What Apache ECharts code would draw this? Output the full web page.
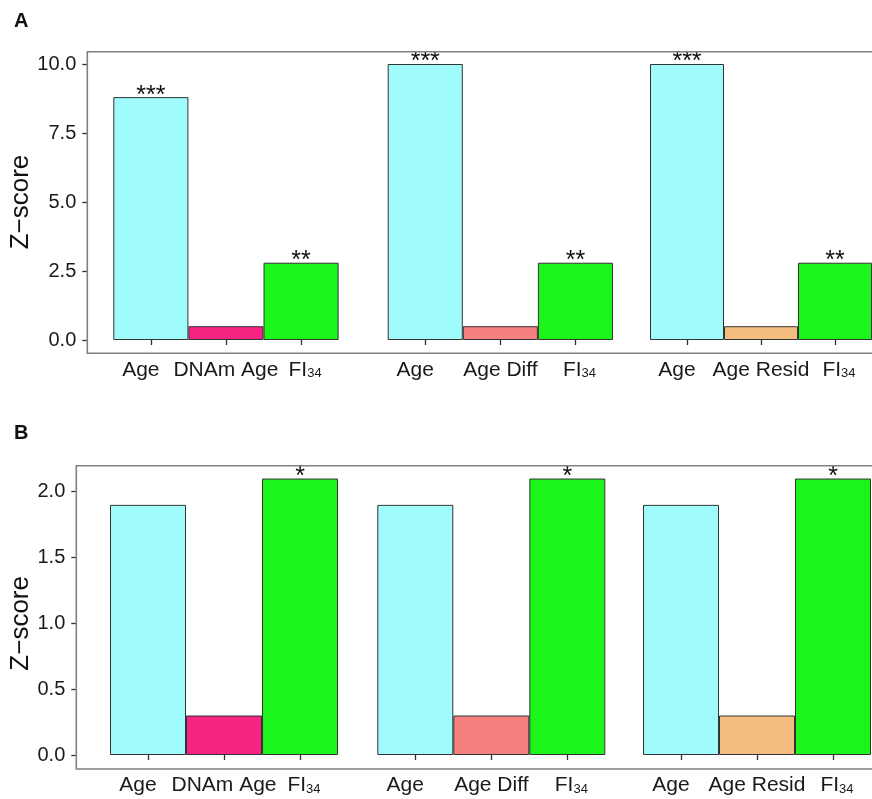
<!DOCTYPE html>
<html>
<head>
<meta charset="utf-8">
<script src="https://cdn.jsdelivr.net/npm/echarts@6/dist/echarts.min.js"></script>
<style>html,body{margin:0;padding:0;background:#fff;}#c{width:872px;height:799px;}</style>
</head>
<body>
<div id="c"></div>
<script>
// ---- data ----
const categories1 = ['Age', 'DNAm Age', 'FI34'];
const categories2 = ['Age', 'Age Diff', 'FI34'];
const categories3 = ['Age', 'Age Resid', 'FI34'];
const valuesA1 = [8.8, 0.5, 2.8];
const valuesA2 = [10.0, 0.5, 2.8];
const valuesA3 = [10.0, 0.5, 2.8];
const sigA1 = ['***', '', '**'];
const sigA2 = ['***', '', '**'];
const sigA3 = ['***', '', '**'];
const valuesB1 = [1.9, 0.3, 2.1];
const valuesB2 = [1.9, 0.3, 2.1];
const valuesB3 = [1.9, 0.3, 2.1];
const sigB1 = ['', '', '*'];
const sigB2 = ['', '', '*'];
const sigB3 = ['', '', '*'];

// ---- styles ----
const colors1 = ['#A0FCFC', '#F52382', '#1BF51B'];
const colors2 = ['#A0FCFC', '#F58080', '#1BF51B'];
const colors3 = ['#A0FCFC', '#F4BE80', '#1BF51B'];
const FONT = 'Liberation Sans, Arial, sans-serif';

const chart = echarts.init(document.getElementById('c'), null, {renderer: 'canvas'});

const panels = [
  {cats: [categories1, categories2, categories3], vals: [valuesA1, valuesA2, valuesA3], sig: [sigA1, sigA2, sigA3],
   lefts: [113.3, 387.7, 650], width: 225.3, top: 64, height: 276, min: 0, max: 10, interval: 2.5,
   yOffset: 26, xOffset: 13.3, nameGap: 51},
  {cats: [categories1, categories2, categories3], vals: [valuesB1, valuesB2, valuesB3], sig: [sigB1, sigB2, sigB3],
   lefts: [110, 377.3, 643], width: 228, top: 491.7, height: 263.3, min: 0, max: 2, interval: 0.5,
   yOffset: 33.7, xOffset: 14, nameGap: 40}
];
const colorSets = [colors1, colors2, colors3];

const grid = [], xAxis = [], yAxis = [], series = [];
panels.forEach((p, pi) => {
  for (let g = 0; g < 3; g++) {
    const idx = grid.length;
    grid.push({left: p.lefts[g], top: p.top, width: p.width, height: p.height, containLabel: false});
    xAxis.push({
      type: 'category', gridIndex: idx, data: p.cats[g], boundaryGap: true, offset: p.xOffset,
      axisLine: {show: false},
      axisTick: {show: true, alignWithLabel: true, length: 5, lineStyle: {color: '#333', width: 1.3}},
      axisLabel: {
        margin: 6, fontSize: 21, color: '#1a1a1a', fontFamily: FONT, interval: 0,
        formatter: v => v === 'FI34' ? '{f|FI}{s|34}' : (v === 'Age' ? '{l|Age}' : '{a|' + v + '}'),
        rich: {a: {fontSize: 21, color: '#1a1a1a', fontFamily: FONT},
               l: {fontSize: 21, color: '#1a1a1a', fontFamily: FONT, padding: [0, 20, 0, 0]},
               f: {fontSize: 21, color: '#1a1a1a', fontFamily: FONT, padding: [0, 0, 0, 8]},
               s: {fontSize: 13, color: '#1a1a1a', fontFamily: FONT, verticalAlign: 'bottom', padding: [8, 0, 0, 0]}}
      },
      splitLine: {show: false}
    });
    const showY = g === 0;
    yAxis.push({
      type: 'value', gridIndex: idx, min: p.min, max: p.max, interval: p.interval,
      show: showY, offset: p.yOffset,
      name: showY ? 'Z\u2212score' : '', nameLocation: 'middle', nameRotate: 90,
      nameGap: p.nameGap,
      nameTextStyle: {fontSize: 26, color: '#111', fontFamily: FONT},
      axisLine: {show: false},
      axisTick: {show: true, length: 5, lineStyle: {color: '#333', width: 1.3}},
      axisLabel: {fontSize: 20, color: '#1a1a1a', fontFamily: FONT, margin: 11,
                  formatter: v => v.toFixed(1)},
      splitLine: {show: false}
    });
    const sig = p.sig[g];
    const cols = colorSets[g];
    series.push({
      type: 'bar', xAxisIndex: idx, yAxisIndex: idx, barCategoryGap: '0%', clip: false,
      data: p.vals[g].map((v, i) => ({value: v, itemStyle: {color: cols[i]}})),
      itemStyle: {borderColor: '#333', borderWidth: 1},
      label: {show: true, position: 'top', distance: -11, fontSize: 25, color: '#111', fontFamily: FONT,
              formatter: d => sig[d.dataIndex]},
      animation: false
    });
  }
});

const option = {
  animation: false,
  backgroundColor: '#fff',
  grid, xAxis, yAxis, series,
  graphic: [
    {type: 'rect', shape: {x: 87.3, y: 51.7, width: 820, height: 301.6}, style: {fill: null, stroke: '#808080', lineWidth: 1.6}, z: 10},
    {type: 'rect', shape: {x: 76.3, y: 465.7, width: 830, height: 303.3}, style: {fill: null, stroke: '#808080', lineWidth: 1.6}, z: 10},
    {type: 'text', left: 14, top: 11, style: {text: 'A', font: 'bold 20px ' + FONT, fill: '#111'}},
    {type: 'text', left: 14, top: 423, style: {text: 'B', font: 'bold 20px ' + FONT, fill: '#111'}}
  ]
};
chart.setOption(option);
</script>
</body>
</html>
